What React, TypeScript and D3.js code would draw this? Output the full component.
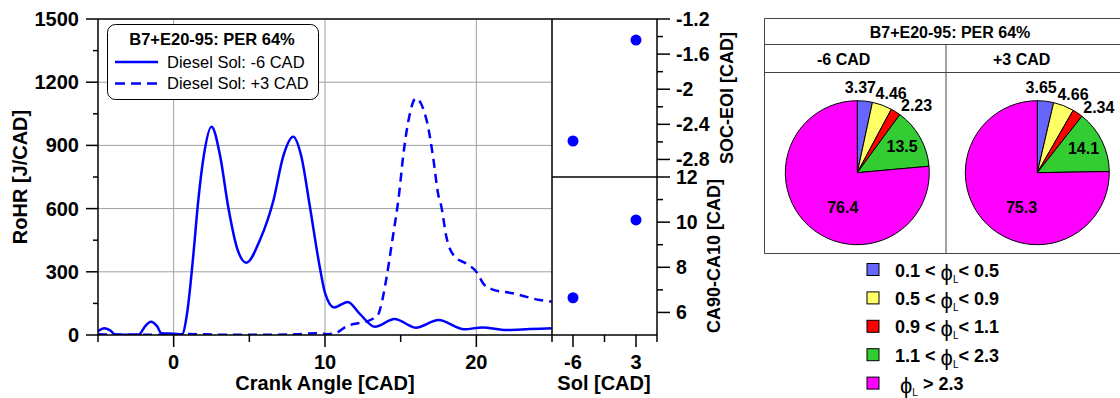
import React from 'react';
import * as d3 from 'd3';

// ---------- DATA ----------
const RHR_SOL_M6: [number, number][] = [
  [-5, 18], [-4.6, 32], [-4.2, 22], [-3.85, 2], [-3, 1], [-2.3, 2], [-1.9, 40], [-1.5, 63],
  [-1.1, 42], [-0.8, 8], [0, 6], [0.55, 4], [0.9, 110], [1.3, 380], [1.6, 620], [1.98, 846],
  [2.5, 989], [3.08, 846], [3.6, 610], [4.2, 410], [4.8, 343], [5.7, 451], [6.6, 641],
  [7.23, 846], [7.9, 941], [8.44, 846], [9.0, 610], [9.65, 324], [10.0, 200], [10.6, 131],
  [11.5, 157], [12.3, 100], [13.3, 39], [14.6, 76], [16.0, 35], [17.5, 71], [19.2, 27],
  [20.4, 36], [22.0, 24], [23.5, 28], [25.0, 32],
];
const RHR_SOL_P3: [number, number][] = [
  [-5, 3], [-4, 2], [-2, 1], [0, 2], [1, 5], [2, 3], [4, 1], [6, 1], [8, 3], [9.4, 8],
  [10.2, 4], [10.8, 12], [11.4, 40], [12.1, 55], [12.7, 63], [13.2, 78], [13.5, 95],
  [13.8, 170], [14.06, 270], [14.45, 450], [14.9, 672], [15.16, 846], [15.5, 1012],
  [16.0, 1123], [16.74, 1012], [17.14, 846], [17.47, 672], [17.69, 609], [18.02, 466],
  [18.57, 372], [19.3, 340], [20.0, 300], [20.5, 240], [21.0, 218], [22.4, 198],
  [24.2, 166], [25, 158],
];
const SERIES_NAMES = ['Diesel Sol: -6 CAD', 'Diesel Sol: +3 CAD'];
const CHART_TITLE = 'B7+E20-95: PER 64%';

const SOL_VALUES = [-6, 3];
const SOC_EOI = [-2.59, -1.44];
const CA90_CA10 = [6.65, 10.1];

const PIE_HEADERS = ['-6 CAD', '+3 CAD'];
const PIE_M6 = [3.37, 4.46, 2.23, 13.5, 76.4];
const PIE_P3 = [3.65, 4.66, 2.34, 14.1, 75.3];
const PHI_LO = ['0.1', '0.5', '0.9', '1.1', null];
const PHI_HI = ['0.5', '0.9', '1.1', '2.3', '2.3'];
const PIE_COLORS = ['#6666ff', '#ffff66', '#ff0000', '#33cc33', '#ff00ff'];

const RHR_TICKS = [0, 300, 600, 900, 1200, 1500];
const RHR_MINOR = [150, 450, 750, 1050, 1350];
const CA_TICKS = [0, 10, 20];
const CA_MINOR = [-5, 5, 15, 25];
const SOL_TICKS = [-6, 3];
const SOL_MINOR = [-1.5, 6];
const SOC_TICKS = [-1.2, -1.6, -2, -2.4, -2.8];
const SOC_MINOR = [-1.4, -1.8, -2.2, -2.6];
const CAD_TICKS = [6, 8, 10, 12];
const CAD_MINOR = [7, 9, 11];

// label placement tweaks (degrees offset, radius)
const LABEL_ANGLE_OFFSET = [-4, 3, 9, -1, -20];
const LABEL_RADIUS = [85, 86, 90, 52, 38];

const FONT = "'Liberation Sans', Arial, Helvetica, sans-serif";
const BLUE = '#0000ff';

export default function App() {
  const W = 1120, H = 398;
  const x = d3.scaleLinear().domain([-5, 25]).range([98, 552]);
  const y = d3.scaleLinear().domain([0, 1500]).range([335, 19]);
  const xs = d3.scaleLinear().domain([-9, 6]).range([552, 657]);
  const yTop = d3.scaleLinear().domain([-3, -1.2]).range([177, 19]);
  const yBot = d3.scaleLinear().domain([5, 12]).range([335, 177]);

  const line = d3.line<[number, number]>()
    .x(d => x(d[0])).y(d => y(d[1])).curve(d3.curveMonotoneX);

  const pieGen = d3.pie<number>().sort(null).value(d => d);
  const arcGen = d3.arc<d3.PieArcDatum<number>>().innerRadius(0).outerRadius(72);

  const pies = [
    { values: PIE_M6, cx: 857.3, cy: 172.7 },
    { values: PIE_P3, cx: 1037.3, cy: 172.7 },
  ];

  const axisStroke = 1.5;
  const grid = '#a0a0a0';

  return (
    <svg width={W} height={H} style={{ position: 'absolute', left: 0, top: 0, background: '#fff' }}
      fontFamily={FONT}>
      <defs>
        <clipPath id="mainclip">
          <rect x={98} y={19} width={454} height={316} />
        </clipPath>
      </defs>
      <rect x={0} y={0} width={W} height={H} fill="#fff" />

      {/* grid */}
      {CA_TICKS.map(t => (
        <line key={'gx' + t} x1={x(t)} x2={x(t)} y1={19} y2={335} stroke={grid} strokeWidth={1} />
      ))}
      {RHR_TICKS.filter(t => t > 0 && t < 1500).map(t => (
        <line key={'gy' + t} x1={98} x2={552} y1={y(t)} y2={y(t)} stroke={grid} strokeWidth={1} />
      ))}

      {/* curves */}
      <g clipPath="url(#mainclip)">
        <path d={line(RHR_SOL_M6) || ''} fill="none" stroke={BLUE} strokeWidth={2.5} />
        <path d={line(RHR_SOL_P3) || ''} fill="none" stroke={BLUE} strokeWidth={2.5} strokeDasharray="9,6" />
      </g>

      {/* main frame */}
      <line x1={98} x2={552} y1={19} y2={19} stroke="#000" strokeWidth={axisStroke} />
      <line x1={98} x2={98} y1={19} y2={335} stroke="#000" strokeWidth={axisStroke} />
      <line x1={98} x2={657} y1={335} y2={335} stroke="#000" strokeWidth={axisStroke} />
      <line x1={552} x2={552} y1={19} y2={335} stroke="#000" strokeWidth={axisStroke} />

      {/* left axis ticks */}
      {RHR_TICKS.map(t => (
        <g key={'yt' + t}>
          <line x1={86} x2={98} y1={y(t)} y2={y(t)} stroke="#000" strokeWidth={axisStroke} />
          <text x={79} y={y(t)} dy="0.35em" textAnchor="end" fontSize={20} fontWeight="bold">{t}</text>
        </g>
      ))}
      {RHR_MINOR.map(t => (
        <line key={'ym' + t} x1={93} x2={98} y1={y(t)} y2={y(t)} stroke="#000" strokeWidth={axisStroke} />
      ))}
      <text transform={`translate(27,${(19 + 335) / 2}) rotate(-90)`} textAnchor="middle"
        fontSize={20} fontWeight="bold">RoHR [J/CAD]</text>

      {/* bottom axis ticks */}
      {CA_TICKS.map(t => (
        <g key={'xt' + t}>
          <line x1={x(t)} x2={x(t)} y1={335} y2={347} stroke="#000" strokeWidth={axisStroke} />
          <text x={x(t)} y={369} textAnchor="middle" fontSize={20} fontWeight="bold">{t}</text>
        </g>
      ))}
      {CA_MINOR.map(t => (
        <line key={'xm' + t} x1={x(t)} x2={x(t)} y1={335} y2={342} stroke="#000" strokeWidth={axisStroke} />
      ))}
      <text x={(98 + 552) / 2} y={390} textAnchor="middle" fontSize={20} fontWeight="bold">Crank Angle [CAD]</text>

      {/* legend */}
      <rect x={107.5} y={24.5} width={211} height={75} rx={8} ry={8} fill="#fff" stroke="#000" strokeWidth={1} />
      <text x={212} y={45} textAnchor="middle" fontSize={16.5} fontWeight="bold">{CHART_TITLE}</text>
      <line x1={115} x2={158} y1={62} y2={62} stroke={BLUE} strokeWidth={2.5} />
      <text x={167} y={67.5} fontSize={16.5}>{SERIES_NAMES[0]}</text>
      <line x1={115} x2={158} y1={83.5} y2={83.5} stroke={BLUE} strokeWidth={2.5} strokeDasharray="10,6" />
      <text x={167} y={89} fontSize={16.5}>{SERIES_NAMES[1]}</text>

      {/* right panel */}
      <line x1={552} x2={657} y1={19} y2={19} stroke="#000" strokeWidth={axisStroke} />
      <line x1={552} x2={657} y1={177} y2={177} stroke="#000" strokeWidth={axisStroke} />
      <line x1={657} x2={657} y1={19} y2={335} stroke="#000" strokeWidth={axisStroke} />
      {SOC_TICKS.map(t => (
        <g key={'st' + t}>
          <line x1={657} x2={670} y1={yTop(t)} y2={yTop(t)} stroke="#000" strokeWidth={axisStroke} />
          <text x={676} y={yTop(t)} dy="0.35em" fontSize={19.5} fontWeight="bold">{String(t)}</text>
        </g>
      ))}
      {SOC_MINOR.map(t => (
        <line key={'sm' + t} x1={657} x2={663} y1={yTop(t)} y2={yTop(t)} stroke="#000" strokeWidth={axisStroke} />
      ))}
      {CAD_TICKS.map(t => (
        <g key={'ct' + t}>
          <line x1={657} x2={670} y1={yBot(t)} y2={yBot(t)} stroke="#000" strokeWidth={axisStroke} />
          <text x={676} y={yBot(t)} dy="0.35em" fontSize={19.5} fontWeight="bold">{String(t)}</text>
        </g>
      ))}
      {CAD_MINOR.map(t => (
        <line key={'cm' + t} x1={657} x2={663} y1={yBot(t)} y2={yBot(t)} stroke="#000" strokeWidth={axisStroke} />
      ))}
      {SOL_TICKS.map(t => (
        <g key={'solt' + t}>
          <line x1={xs(t)} x2={xs(t)} y1={335} y2={347} stroke="#000" strokeWidth={axisStroke} />
          <text x={xs(t)} y={369} textAnchor="middle" fontSize={20} fontWeight="bold">{String(t)}</text>
        </g>
      ))}
      {SOL_MINOR.map(t => (
        <line key={'solm' + t} x1={xs(t)} x2={xs(t)} y1={335} y2={342} stroke="#000" strokeWidth={axisStroke} />
      ))}
      <text x={604} y={390} textAnchor="middle" fontSize={20} fontWeight="bold">Sol [CAD]</text>
      <text transform={`translate(733,${(19 + 177) / 2}) rotate(-90)`} textAnchor="middle"
        fontSize={18} fontWeight="bold">SOC-EOI [CAD]</text>
      <text transform={`translate(720,${(177 + 335) / 2}) rotate(-90)`} textAnchor="middle"
        fontSize={18} fontWeight="bold">CA90-CA10 [CAD]</text>

      {SOL_VALUES.map((s, i) => (
        <circle key={'soc' + i} cx={xs(s)} cy={yTop(SOC_EOI[i])} r={5.5} fill={BLUE} />
      ))}
      {SOL_VALUES.map((s, i) => (
        <circle key={'cad' + i} cx={xs(s)} cy={yBot(CA90_CA10[i])} r={5.5} fill={BLUE} />
      ))}

      {/* pie table */}
      <g stroke="#444" strokeWidth={1} fill="none">
        <line x1={764.5} x2={1125} y1={18.5} y2={18.5} />
        <line x1={764.5} x2={1125} y1={44.5} y2={44.5} />
        <line x1={764.5} x2={1125} y1={72.5} y2={72.5} />
        <line x1={764.5} x2={1125} y1={253.5} y2={253.5} />
        <line x1={764.5} x2={764.5} y1={18.5} y2={253.5} />
        <line x1={946} x2={946} y1={44.5} y2={253.5} />
      </g>
      <text x={950} y={38} textAnchor="middle" fontSize={16} fontWeight="bold">{CHART_TITLE}</text>
      <text x={817} y={65} fontSize={16} fontWeight="bold">{PIE_HEADERS[0]}</text>
      <text x={993} y={65} fontSize={16} fontWeight="bold">{PIE_HEADERS[1]}</text>

      {pies.map((p, pi) => {
        const arcs = pieGen(p.values);
        return (
          <g key={'pie' + pi}>
            <g transform={`translate(${p.cx},${p.cy})`}>
              {arcs.map((a, i) => (
                <path key={i} d={arcGen(a) || ''} fill={PIE_COLORS[i]} stroke="#000" strokeWidth={1} />
              ))}
            </g>
            {arcs.map((a, i) => {
              const ang = (a.startAngle + a.endAngle) / 2 + (LABEL_ANGLE_OFFSET[i] * Math.PI) / 180;
              const r = LABEL_RADIUS[i];
              return (
                <text key={'l' + i} x={p.cx + r * Math.sin(ang)} y={p.cy - r * Math.cos(ang)} dy="0.35em"
                  textAnchor="middle" fontSize={16} fontWeight="bold">{String(p.values[i])}</text>
              );
            })}
          </g>
        );
      })}

      {/* pie legend */}
      {PIE_COLORS.map((c, i) => {
        const cy = 269.5 + i * 28.4;
        const lo = PHI_LO[i];
        return (
          <g key={'pl' + i}>
            <rect x={867} y={cy - 6} width={12} height={12} fill={c} stroke="#000" strokeWidth={1} />
            {lo !== null ? (
              <text x={895} y={cy + 7} fontSize={18} fontWeight="bold">
                {`${lo} < `}
                <tspan fontWeight="normal" fontSize={22} dy={3}>ϕ</tspan>
                <tspan fontWeight="normal" fontSize={10} dy={3}>L</tspan>
                <tspan dy={-6}>{`< ${PHI_HI[i]}`}</tspan>
              </text>
            ) : (
              <text x={900} y={cy + 7} fontSize={18} fontWeight="bold">
                <tspan fontWeight="normal" fontSize={22} dy={3}>ϕ</tspan>
                <tspan fontWeight="normal" fontSize={10} dy={3}>L</tspan>
                <tspan dy={-6}>{` > ${PHI_HI[i]}`}</tspan>
              </text>
            )}
          </g>
        );
      })}
    </svg>
  );
}
